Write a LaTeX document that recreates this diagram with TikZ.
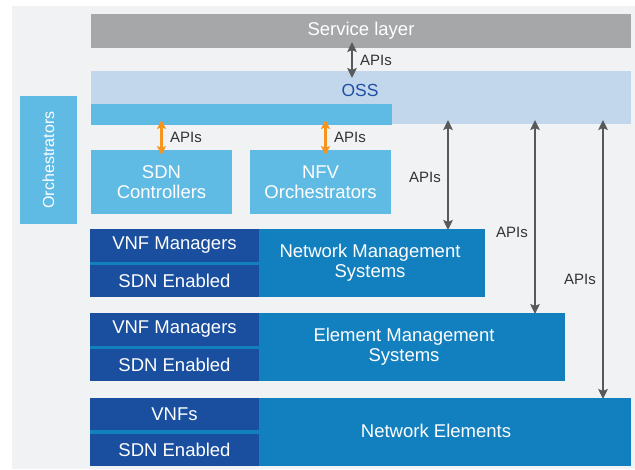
\documentclass[tikz,border=0pt]{standalone}
\usepackage{fontspec}
\setmainfont{Liberation Sans}
\usetikzlibrary{arrows.meta}
\definecolor{bgc}{HTML}{F1F2F4}
\definecolor{svc}{HTML}{A6A7A9}
\definecolor{ossc}{HTML}{C2D7EC}
\definecolor{lblue}{HTML}{5FBBE4}
\definecolor{mblue}{HTML}{127FBF}
\definecolor{dblue}{HTML}{1A4F9F}
\definecolor{osstext}{HTML}{1F4FA3}
\definecolor{arrgray}{HTML}{58595B}
\definecolor{orng}{HTML}{F7941D}
\definecolor{apitext}{HTML}{333333}
\tikzset{
  blk/.style={inner sep=0pt, outer sep=0pt, anchor=north west, text=white, align=center,
    font=\fontsize{18.5}{20}\selectfont},
  lbl/.style={inner sep=0pt, text=white, align=center, font=\fontsize{18.5}{20}\selectfont},
  apilabel/.style={anchor=west, inner sep=0pt, text=apitext, font=\fontsize{15}{16}\selectfont},
  grayarrow/.style={draw=arrgray, line width=2.3pt, {Stealth[length=10pt,width=9.5pt,inset=2pt]}-{Stealth[length=10pt,width=9.5pt,inset=2pt]}},
  orangearrow/.style={draw=orng, line width=2.4pt, {Stealth[length=9pt,width=9pt,inset=2pt]}-{Stealth[length=9pt,width=9pt,inset=2pt]}}
}
\begin{document}
\begin{tikzpicture}[x=1pt,y=-1pt]
\useasboundingbox (0,0) rectangle (635,469);
\fill[bgc] (12,6) rectangle (635,469);

% service layer
\node[blk, fill=svc, minimum width=540pt, minimum height=34pt] (service) at (91,14) {Service layer};
% OSS
\node[blk, fill=ossc, minimum width=540pt, minimum height=53pt] (oss) at (91,71) {};
\node[inner sep=0pt, text=osstext, font=\fontsize{17.5}{20}\selectfont] (osslabel) at (360,90) {OSS};
\node[blk, fill=lblue, minimum width=301pt, minimum height=21pt] (strip) at (91,104) {};

% orchestrators
\node[blk, fill=lblue, minimum width=57pt, minimum height=128pt] (orch) at (20,96) {};
\node[inner sep=0pt, text=white, rotate=90, font=\fontsize{16}{18}\selectfont] (orchlabel) at (orch.center) {Orchestrators};

% SDN / NFV
\node[blk, fill=lblue, minimum width=141pt, minimum height=64pt] (sdn) at (91,150) {SDN\\Controllers};
\node[blk, fill=lblue, minimum width=141pt, minimum height=64pt] (nfv) at (250,150) {NFV\\Orchestrators};

% NMS
\node[blk, fill=mblue, minimum width=395pt, minimum height=68pt] (nms) at (90,229) {};
\node[lbl] (nmslabel) at (370,263) {Network Management\\Systems};
\node[blk, fill=dblue, minimum width=169pt, minimum height=33pt] (nmsvnf) at (90,229) {VNF Managers};
\node[blk, fill=dblue, minimum width=169pt, minimum height=32pt] (nmssdn) at (90,265) {SDN Enabled};

% EMS
\node[blk, fill=mblue, minimum width=475pt, minimum height=68pt] (ems) at (90,313) {};
\node[lbl] (emslabel) at (404,347) {Element Management\\Systems};
\node[blk, fill=dblue, minimum width=169pt, minimum height=33pt] (emsvnf) at (90,313) {VNF Managers};
\node[blk, fill=dblue, minimum width=169pt, minimum height=32pt] (emssdn) at (90,349) {SDN Enabled};

% NE
\node[blk, fill=mblue, minimum width=541pt, minimum height=68pt] (ne) at (90,398) {};
\node[lbl] (nelabel) at (436,431) {Network Elements};
\node[blk, fill=dblue, minimum width=169pt, minimum height=32pt] (nevnf) at (90,398) {VNFs};
\node[blk, fill=dblue, minimum width=169pt, minimum height=32pt] (nesdn) at (90,434) {SDN Enabled};

% arrows
\draw[grayarrow, shorten <=-6pt, shorten >=-7pt] ([xshift=-9pt]service.south) -- ([xshift=-9pt]service.south |- oss.north);
\node[apilabel] (api0) at (360,60) {APIs};

\draw[orangearrow, shorten <=-5pt, shorten >=-5pt] (strip.south -| sdn.north) -- (sdn.north);
\node[apilabel] (api1) at (170,137) {APIs};
\draw[orangearrow, shorten <=-5pt, shorten >=-5pt] ([xshift=5pt]strip.south -| nfv.north) -- ([xshift=5pt]nfv.north);
\node[apilabel] (api2) at (334,137) {APIs};

\coordinate (c1) at (448,0);
\coordinate (c2) at (535,0);
\coordinate (c3) at (603,0);
\draw[grayarrow, shorten <=-4pt, shorten >=-1pt] (oss.south -| c1) -- (nms.north -| c1);
\node[apilabel] (api3) at (409,177) {APIs};
\draw[grayarrow, shorten <=-4pt, shorten >=-1pt] (oss.south -| c2) -- (ems.north -| c2);
\node[apilabel] (api4) at (496,232) {APIs};
\draw[grayarrow, shorten <=-4pt, shorten >=-1pt] (oss.south -| c3) -- (ne.north -| c3);
\node[apilabel] (api5) at (564,279) {APIs};
\end{tikzpicture}
\end{document}
